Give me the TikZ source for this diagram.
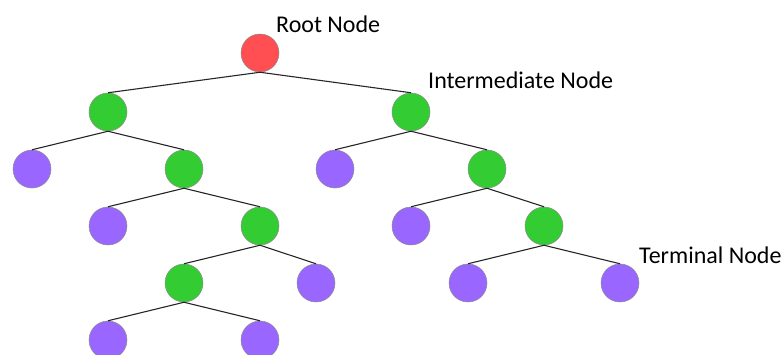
\documentclass[tikz,border=0pt]{standalone}
\usepackage{fontspec}
\setmainfont{Carlito}
\begin{document}
\begin{tikzpicture}[x=1pt,y=-1pt,
  vtx/.style={circle,minimum size=38pt,inner sep=0pt,draw=black!45,line width=0.5pt},
  rootv/.style={vtx,fill=rootred},
  midv/.style={vtx,fill=midgreen},
  leafv/.style={vtx,fill=leafpurple},
  edge/.style={line width=1.1pt,black!85},
  lbl/.style={anchor=base west,inner sep=0pt,font=\fontsize{24}{29}\selectfont}]
\definecolor{rootred}{HTML}{FF4F52}
\definecolor{midgreen}{HTML}{33CC33}
\definecolor{leafpurple}{HTML}{9966FF}
\useasboundingbox (0,0) rectangle (784,354);

% level 0
\node[rootv] (r) at (260,53) {};
% level 1
\node[midv] (a) at (108,112) {};
\node[midv] (b) at (411,112) {};
% level 2
\node[leafv] (a1) at (32,169) {};
\node[midv] (a2) at (184,169) {};
\node[leafv] (b1) at (335,169) {};
\node[midv] (b2) at (487,169) {};
% level 3
\node[leafv] (a21) at (108,226) {};
\node[midv] (a22) at (260,226) {};
\node[leafv] (b21) at (411,226) {};
\node[midv] (b22) at (544,226) {};
% level 4
\node[midv] (c1) at (184,283) {};
\node[leafv] (c2) at (316,283) {};
\node[leafv] (d1) at (468,283) {};
\node[leafv] (d2) at (620,283) {};
% level 5
\node[leafv] (e1) at (108,340) {};
\node[leafv] (e2) at (260,340) {};

% branches: parent bottom to child top
\foreach \p/\c in {r/a,r/b,a/a1,a/a2,b/b1,b/b2,a2/a21,a2/a22,b2/b21,b2/b22,
                   a22/c1,a22/c2,b22/d1,b22/d2,c1/e1,c1/e2}
  \draw[edge] (\p.south) -- (\c.north);

% captions
\node[lbl] (tr) at (276,32.5) {Root Node};
\node[lbl] (ti) at (428,88) {Intermediate Node};
\node[lbl] (tt) at (639,263) {Terminal Node};
\end{tikzpicture}
\end{document}
